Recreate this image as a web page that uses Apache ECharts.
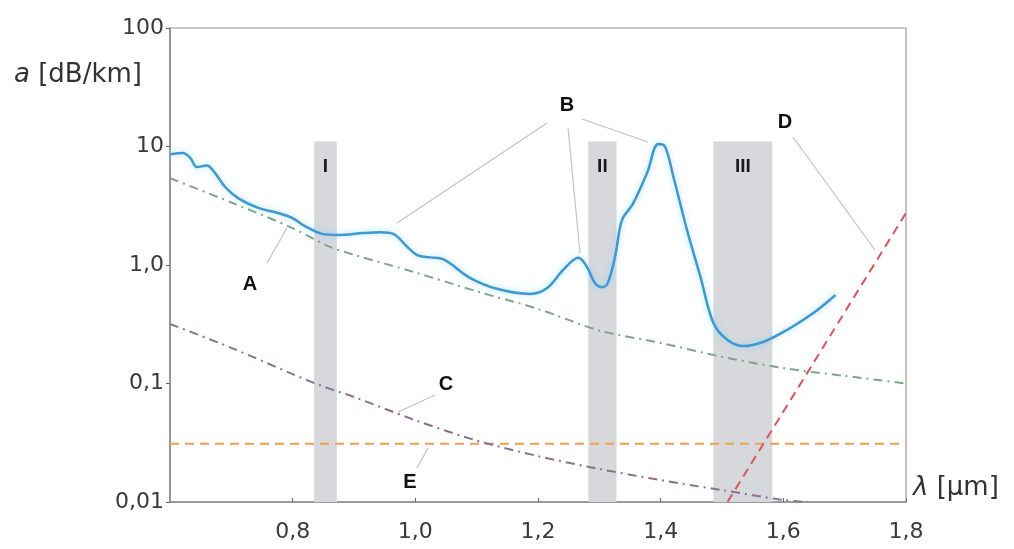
<!DOCTYPE html>
<html>
<head>
<meta charset="utf-8">
<script src="https://cdn.jsdelivr.net/npm/echarts@6/dist/echarts.min.js"></script>
<style>
  html, body { margin: 0; padding: 0; background: #fff; }
  #main { width: 1014px; height: 549px; }
</style>
</head>
<body>
<div id="main"></div>
<script>
// attenuation curves, wavelength in µm, attenuation in dB/km
var bLambda = [0.600, 0.621, 0.633, 0.644, 0.660, 0.670, 0.690, 0.711, 0.744, 0.776, 0.799, 0.820, 0.848, 0.874,
               0.915, 0.943, 0.964, 0.987, 1.003, 1.024, 1.045, 1.089, 1.133, 1.187, 1.215, 1.241, 1.266, 1.280,
               1.293, 1.305, 1.314, 1.326, 1.337, 1.355, 1.378, 1.396, 1.407, 1.421, 1.443, 1.465, 1.486, 1.509,
               1.535, 1.567, 1.606, 1.649, 1.685];
var bValues = [8.6, 8.8, 8.0, 6.7, 6.9, 6.3, 4.55, 3.67, 3.03, 2.75, 2.5, 2.13, 1.83, 1.79,
               1.86, 1.89, 1.83, 1.42, 1.21, 1.16, 1.12, 0.78, 0.63, 0.57, 0.64, 0.91, 1.15, 0.96,
               0.70, 0.65, 0.71, 1.2, 2.4, 3.3, 6.0, 10.5, 10.0, 5.5, 1.97, 0.79, 0.324, 0.233,
               0.207, 0.224, 0.283, 0.393, 0.558];

var aLambda = [0.6, 0.7, 0.8, 0.861, 0.9, 1.0, 1.1, 1.2, 1.3, 1.4, 1.5, 1.6, 1.7, 1.8];
var aValues = [5.4, 3.37, 2.05, 1.42, 1.22, 0.865, 0.60, 0.426, 0.28, 0.22, 0.168, 0.135, 0.116, 0.10];

var cLambda = [0.6, 0.7, 0.8, 0.853, 0.9, 1.0, 1.1, 1.2, 1.3, 1.4, 1.5, 1.6, 1.64];
var cValues = [0.318, 0.20, 0.12, 0.093, 0.077, 0.049, 0.033, 0.0244, 0.019, 0.0153, 0.0126, 0.0104, 0.01];

var dLambda = [1.509, 1.8];
var dValues = [0.01, 2.75];

var eLambda = [0.6, 1.8];
var eValues = [0.031, 0.031];

// transmission windows
var bandNames = ['I', 'II', 'III'];
var bandStart = [0.835, 1.282, 1.486];
var bandEnd = [0.872, 1.328, 1.582];
var bandTop = 11;

var yTickLabels = { '0.01': '0,01', '0.1': '0,1', '1': '1,0', '10': '10', '100': '100' };

function pairs(xs, ys) {
    return xs.map(function (x, i) { return [x, ys[i]]; });
}

var myChart = echarts.init(document.getElementById('main'));

var dashDot = [9, 5, 2, 5];
var letterFont = 'bold 20px "Liberation Sans"';
var leader = { stroke: '#c2c2c2', lineWidth: 1.2 };

option = {
    backgroundColor: '#fff',
    animation: false,
    grid: {
        left: 170, top: 28, right: 108, bottom: 47,
        show: true, borderColor: '#9a9a9a', borderWidth: 1.2
    },
    xAxis: {
        type: 'value',
        min: 0.6, max: 1.8, interval: 0.2,
        axisLine: { lineStyle: { color: '#8a8a8a', width: 1.5 } },
        axisTick: { show: true, length: 4, inside: true, lineStyle: { color: '#666' } },
        splitLine: { show: false },
        axisLabel: {
            showMinLabel: false,
            margin: 19,
            fontFamily: 'DejaVu Sans', fontSize: 22, color: '#3a3a3a',
            formatter: function (v) { return v.toFixed(1).replace('.', ','); }
        }
    },
    yAxis: {
        type: 'log', logBase: 10,
        min: 0.01, max: 100,
        axisLine: { show: true, lineStyle: { color: '#8a8a8a', width: 1.5 } },
        axisTick: { show: true, length: 4, lineStyle: { color: '#666' } },
        splitLine: { show: false },
        minorTick: { show: false },
        axisLabel: {
            margin: 6,
            fontFamily: 'DejaVu Sans', fontSize: 22, color: '#3a3a3a',
            formatter: function (v) {
                var k = String(Math.round(Math.log10(v)) >= 0 ? Math.round(v) : +v.toPrecision(1));
                return yTickLabels[k] || '';
            }
        }
    },
    series: [
        {
            name: 'windows', type: 'line', data: [], silent: true,
            markArea: {
                silent: true,
                itemStyle: { color: '#d6d8dc' },
                label: {
                    position: 'insideTop', distance: 16,
                    fontFamily: 'Liberation Sans', fontWeight: 'bold', fontSize: 19, color: '#1a1a1a'
                },
                data: bandNames.map(function (n, i) {
                    return [{ name: n, xAxis: bandStart[i], yAxis: 0.01 }, { xAxis: bandEnd[i], yAxis: bandTop }];
                })
            }
        },
        {
            name: 'E', type: 'line', data: pairs(eLambda, eValues), showSymbol: false, silent: true,
            lineStyle: { color: '#f2a04e', width: 2, type: [9, 6] }
        },
        {
            name: 'C', type: 'line', data: pairs(cLambda, cValues), showSymbol: false, smooth: 0.3, silent: true,
            lineStyle: { color: '#8e6f8e', width: 2, type: dashDot }
        },
        {
            name: 'A', type: 'line', data: pairs(aLambda, aValues), showSymbol: false, smooth: 0.3, silent: true,
            lineStyle: { color: '#7fa68a', width: 2, type: dashDot }
        },
        {
            name: 'D', type: 'line', data: pairs(dLambda, dValues), showSymbol: false, silent: true,
            lineStyle: { color: '#e0525c', width: 2, type: [9, 6] }
        },
        {
            name: 'B', type: 'line', data: pairs(bLambda, bValues), showSymbol: false, smooth: 0.35, silent: true,
            lineStyle: {
                color: '#3f98d2', width: 2.5,
                shadowBlur: 6, shadowColor: 'rgba(120, 210, 255, 0.7)'
            }
        }
    ],
    graphic: [
        // axis titles
        {
            type: 'text', left: 14, top: 62,
            style: {
                text: '{i|a} [dB/km]',
                rich: { i: { fontStyle: 'italic', fontFamily: 'DejaVu Sans', fontSize: 26, fill: '#333' } },
                fontFamily: 'DejaVu Sans', fontSize: 26, fill: '#333'
            }
        },
        {
            type: 'text', left: 913, top: 475,
            style: {
                text: '{i|λ} [µm]',
                rich: { i: { fontStyle: 'italic', fontFamily: 'DejaVu Sans', fontSize: 26, fill: '#333' } },
                fontFamily: 'DejaVu Sans', fontSize: 26, fill: '#333'
            }
        },
        // leader lines
        { type: 'line', shape: { x1: 547, y1: 123, x2: 397, y2: 223 }, style: leader },
        { type: 'line', shape: { x1: 568, y1: 128, x2: 580, y2: 253 }, style: leader },
        { type: 'line', shape: { x1: 582, y1: 119, x2: 648, y2: 142 }, style: leader },
        { type: 'line', shape: { x1: 793, y1: 137, x2: 875, y2: 250 }, style: leader },
        { type: 'line', shape: { x1: 267, y1: 263, x2: 287, y2: 228 }, style: leader },
        { type: 'line', shape: { x1: 398, y1: 412, x2: 435, y2: 395 }, style: leader },
        { type: 'line', shape: { x1: 417, y1: 468, x2: 428, y2: 448 }, style: leader },
        // curve letters
        { type: 'text', x: 250, y: 284, style: { text: 'A', align: 'center', verticalAlign: 'middle', font: letterFont, fill: '#111' } },
        { type: 'text', x: 567, y: 105, style: { text: 'B', align: 'center', verticalAlign: 'middle', font: letterFont, fill: '#111' } },
        { type: 'text', x: 446, y: 384, style: { text: 'C', align: 'center', verticalAlign: 'middle', font: letterFont, fill: '#111' } },
        { type: 'text', x: 785, y: 122, style: { text: 'D', align: 'center', verticalAlign: 'middle', font: letterFont, fill: '#111' } },
        { type: 'text', x: 410, y: 482, style: { text: 'E', align: 'center', verticalAlign: 'middle', font: letterFont, fill: '#111' } }
    ]
};
myChart.setOption(option);
</script>
</body>
</html>
